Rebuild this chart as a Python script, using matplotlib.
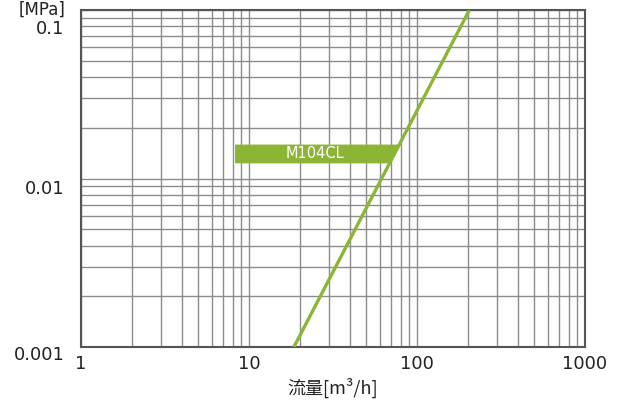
import matplotlib
matplotlib.use("Agg")
import matplotlib.pyplot as plt
import matplotlib.transforms as mtransforms
from matplotlib.patches import Polygon
import numpy as np

# data
flow = [18.5, 205.0]          # m3/h
pressure = [0.001, 0.1]       # MPa
label_name = "M104CL"
label_left = 8.26
label_top = 0.0159
label_bottom = 0.0123

x_ticks = [1, 10, 100, 1000]
x_ticklabels = ["1", "10", "100", "1000"]
y_ticks = [0.001, 0.01, 0.1]
y_ticklabels = ["0.001", "0.01", "0.1"]
y_label_drop_px = [6, 8, 17]

GREEN = "#8cb536"
GRID = "#8c8c8c"

fig = plt.figure(figsize=(6.22, 4.08), dpi=100)
ax = fig.add_axes([81 / 622, 61 / 408, 504 / 622, 337 / 408])

ax.set_xscale("log")
ax.set_yscale("log")
ax.set_xlim(1, 1000)
ax.set_ylim(0.001, 0.1)

ax.grid(True, which="both", color=GRID, linewidth=1.0)
ax.set_axisbelow(True)

ax.plot(flow, pressure, color=GREEN, linewidth=2.4, solid_capstyle="butt", zorder=3)

# label box whose right edge follows the curve
k = np.log10(flow[1] / flow[0]) / np.log10(pressure[1] / pressure[0])
def flow_at(p):
    return flow[0] * (p / pressure[0]) ** k

poly = Polygon([(label_left, label_bottom), (label_left, label_top),
                (flow_at(label_top), label_top), (flow_at(label_bottom), label_bottom)],
               closed=True, facecolor=GREEN, edgecolor="none", zorder=4)
ax.add_patch(poly)
ax.text(np.sqrt(label_left * flow_at(np.sqrt(label_top * label_bottom))),
        np.sqrt(label_top * label_bottom), label_name, color="white",
        fontsize=10.5, ha="center", va="center", zorder=5)

ax.set_xticks(x_ticks)
ax.set_xticklabels(x_ticklabels)
ax.set_yticks(y_ticks)
ax.set_yticklabels(y_ticklabels)
ax.xaxis.set_minor_formatter(matplotlib.ticker.NullFormatter())
ax.yaxis.set_minor_formatter(matplotlib.ticker.NullFormatter())
ax.tick_params(which="both", length=0, labelsize=13, labelcolor="#222222")
ax.tick_params(axis="x", pad=6)
ax.tick_params(axis="y", pad=12)

for lab, drop in zip(ax.get_yticklabels(), y_label_drop_px):
    lab.set_transform(lab.get_transform() +
                      mtransforms.ScaledTranslation(0, -drop / 100, fig.dpi_scale_trans))

for s in ax.spines.values():
    s.set_color("#555555")
    s.set_linewidth(1.5)

ax.set_xlabel("流量[m³/h]", fontsize=13, family=["Noto Sans CJK JP", "DejaVu Sans"],
              color="#222222", labelpad=3)
# unit label at the top left corner
fig.text(42 / 622, 0.998, "[MPa]", fontsize=12, ha="center", va="top", color="#222222")

fig.savefig("out.png", dpi=100)
